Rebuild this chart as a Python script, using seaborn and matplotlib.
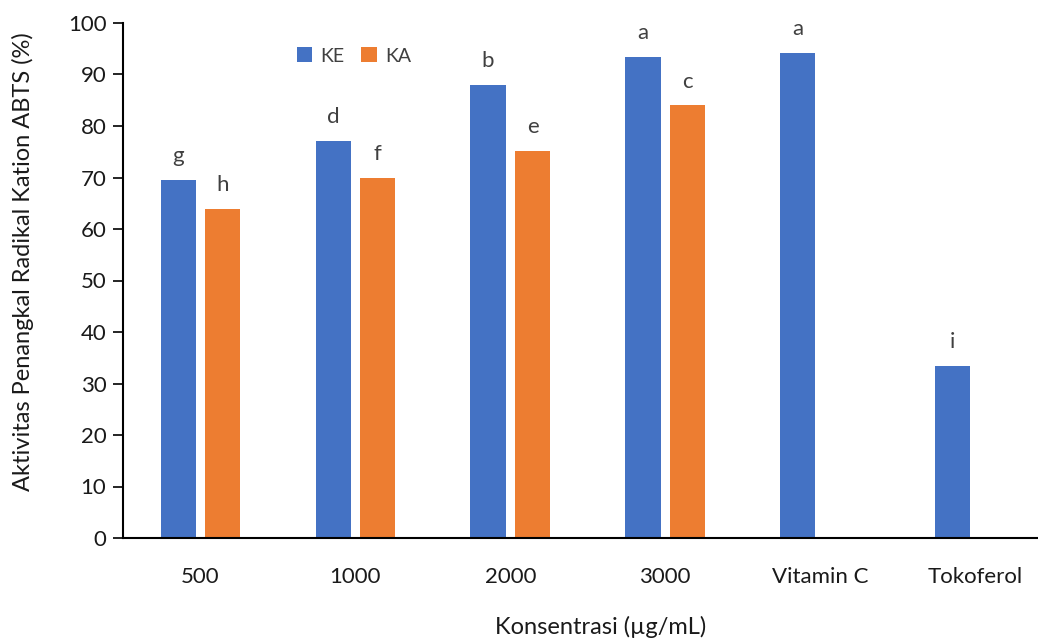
import pandas as pd
import seaborn as sns
import matplotlib.pyplot as plt

# ---- data ----
konsentrasi = ['500', '1000', '2000', '3000', 'Vitamin C', 'Tokoferol']
ke_values = [69.6, 77.1, 87.9, 93.4, 94.1, 33.4]
ka_values = [63.9, 69.9, 75.1, 84.0]          # KA only for the four extract doses
ke_letters = ['g', 'd', 'b', 'a', 'a', 'i']
ka_letters = ['h', 'f', 'e', 'c']

rows = []
for k, v in zip(konsentrasi, ke_values):
    rows.append({'konsentrasi': k, 'ekstrak': 'KE', 'nilai': v})
for k, v in zip(konsentrasi, ka_values):
    rows.append({'konsentrasi': k, 'ekstrak': 'KA', 'nilai': v})
df = pd.DataFrame(rows)

sns.set_style("white")
plt.rcParams['font.family'] = ['Lato', 'DejaVu Sans']
grey = '#404040'

fig = plt.figure(figsize=(10.38, 6.39), dpi=100)
ax = fig.add_axes([123 / 1038, 101 / 639, 929.5 / 1038, 515 / 639])

sns.barplot(data=df, x='konsentrasi', y='nilai', hue='ekstrak',
            order=konsentrasi, hue_order=['KE', 'KA'],
            palette={'KE': '#4472C4', 'KA': '#ED7D31'}, saturation=1,
            width=0.574, gap=0.21, linewidth=0, errorbar=None, ax=ax)

# significance letters above bars
ax.bar_label(ax.containers[0], labels=ke_letters, padding=10,
             fontsize=16, color=grey)
ax.bar_label(ax.containers[1], labels=ka_letters, padding=10,
             fontsize=16, color=grey)

ax.set_ylim(0, 100)
ax.set_xlim(-0.5, 5.5)
ax.set_yticks(range(0, 101, 10))
ax.tick_params(axis='y', length=7, width=1.2, color='black', direction='out',
               labelsize=16, labelcolor='#1a1a1a', pad=5, left=True)
ax.tick_params(axis='x', length=0, labelsize=16, labelcolor='#1a1a1a', pad=21)

for s in ['top', 'right']:
    ax.spines[s].set_visible(False)
for s in ['left', 'bottom']:
    ax.spines[s].set_color('black')
    ax.spines[s].set_linewidth(1.5)

ax.set_ylabel('Aktivitas Penangkal Radikal Kation ABTS (%)', fontsize=17,
              color='#1a1a1a')
ax.yaxis.set_label_coords((34 - 123) / 929.5, (538 - 262) / 515)
ax.set_xlabel('Konsentrasi (µg/mL)', fontsize=17, color='#1a1a1a')
ax.xaxis.set_label_coords((601 - 123) / 929.5, -0.151)

ax.legend(loc='upper left', bbox_to_anchor=(279 / 1038, 1 - 30 / 639),
          bbox_transform=fig.transFigure, ncol=2, frameon=False,
          fontsize=14, handlelength=0.8, handleheight=0.8,
          handletextpad=0.4, columnspacing=0.9, labelcolor=grey)

fig.savefig('out.png', dpi=100)
